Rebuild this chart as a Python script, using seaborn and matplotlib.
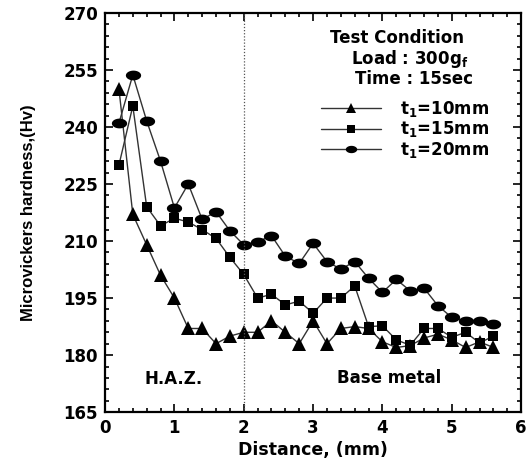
import numpy as np
import pandas as pd
import matplotlib
matplotlib.use("Agg")
import matplotlib.pyplot as plt
import seaborn as sns
from matplotlib.path import Path
from matplotlib.ticker import MultipleLocator

# ---- data ----
distance = [0.2, 0.4, 0.6, 0.8, 1.0, 1.2, 1.4, 1.6, 1.8, 2.0,
            2.2, 2.4, 2.6, 2.8, 3.0, 3.2, 3.4, 3.6, 3.8, 4.0,
            4.2, 4.4, 4.6, 4.8, 5.0, 5.2, 5.4, 5.6]
t10 = [250, 217, 209, 201, 195, 187, 187, 183, 185, 186,
       186, 189, 186, 183, 189, 183, 187, 187.5, 187, 183.5,
       182, 182.5, 184.5, 185.5, 184, 182, 183.5, 182]
t15 = [230, 245.5, 219, 214, 216, 215, 213, 210.7, 205.7, 201.2,
       195, 196, 193.2, 194.2, 191, 195, 195, 198.2, 187.5, 187.7,
       184, 182.6, 187, 187, 184.7, 186, 183.2, 185]
t20 = [241, 253.7, 241.6, 231, 218.7, 225, 215.7, 217.7, 212.7, 209,
       209.8, 211.4, 206, 204.1, 209.4, 204.6, 202.6, 204.6, 200.2, 196.5,
       199.9, 196.9, 197.6, 193, 189.9, 189, 189, 188.2]
series_labels = [r"t$_\mathbf{1}$=10mm", r"t$_\mathbf{1}$=15mm", r"t$_\mathbf{1}$=20mm"]
xticks = [0, 1, 2, 3, 4, 5, 6]
yticks = [165, 180, 195, 210, 225, 240, 255, 270]

sns.set_theme(style="ticks")
plt.rcParams['font.family'] = ['DejaVu Sans']
plt.rcParams['font.weight'] = 'bold'
plt.rcParams['mathtext.fontset'] = 'dejavusans'
plt.rcParams['mathtext.default'] = 'bf'
plt.rcParams['text.color'] = 'black'
plt.rcParams['axes.labelcolor'] = 'black'
plt.rcParams['xtick.color'] = 'black'
plt.rcParams['ytick.color'] = 'black'

# elliptical marker
th = np.linspace(0, 2 * np.pi, 40)
ellipse = Path(np.column_stack([np.cos(th), 0.64 * np.sin(th)]))

fig = plt.figure(figsize=(5.28, 4.61), dpi=100)
ax = fig.add_axes([0.199, 0.106, 0.788, 0.866])

markers = ['^', 's', ellipse]
msizes = [9.5, 7.8, 11]
for vals, lab, mk, ms in zip([t10, t15, t20], series_labels, markers, msizes):
    df = pd.DataFrame({"Distance": distance, "Hv": vals})
    sns.lineplot(data=df, x="Distance", y="Hv", ax=ax, color="#333333",
                 linewidth=1.0, marker=mk, markersize=ms,
                 markerfacecolor="black", markeredgecolor="black",
                 markeredgewidth=0, label=lab, sort=False)

ax.axvline(2.0, color="#555555", linestyle=(0, (1, 1.5)), linewidth=0.9)

ax.set_xlim(0, 6)
ax.set_ylim(165, 270)
ax.set_xticks(xticks)
ax.set_yticks(yticks)
ax.xaxis.set_minor_locator(MultipleLocator(0.2))
ax.yaxis.set_minor_locator(MultipleLocator(3))
ax.tick_params(which='both', direction='in', top=True, right=True,
               width=1.2, colors='black')
ax.tick_params(which='major', length=6, labelsize=12, pad=5)
ax.tick_params(which='minor', length=3)
for lbl in ax.get_xticklabels() + ax.get_yticklabels():
    lbl.set_fontweight('bold')
for sp in ax.spines.values():
    sp.set_linewidth(1.6)
    sp.set_color('black')

ax.set_xlabel("Distance, (mm)", fontsize=12.5, fontweight='bold', labelpad=3)
ax.set_ylabel("Microvickers hardness,(Hv)", fontsize=12, fontweight='bold',
              family=['Liberation Sans Narrow', 'Liberation Sans'], labelpad=20)

ax.text(0.99, 173.7, "H.A.Z.", fontsize=12, fontweight='bold', ha='center', va='center')
ax.text(4.1, 174.0, "Base metal", fontsize=12, fontweight='bold', ha='center', va='center')

ax.text(3.24, 263.5, "Test Condition", fontsize=12, fontweight='bold', ha='left', va='center')
ax.text(3.55, 258.0, r"Load : 300g$_\mathbf{f}$", fontsize=12, fontweight='bold', ha='left', va='center')
ax.text(3.60, 252.6, "Time : 15sec", fontsize=12, fontweight='bold', ha='left', va='center')

leg = ax.legend(loc='upper left', bbox_to_anchor=(0.50, 0.805), frameon=False,
                fontsize=12, handlelength=3.6, handletextpad=1.1,
                labelspacing=0.02, borderpad=0, markerscale=0.75)
for t in leg.get_texts():
    t.set_fontweight('bold')
    t.set_color('black')

fig.savefig("out.png", dpi=100)
